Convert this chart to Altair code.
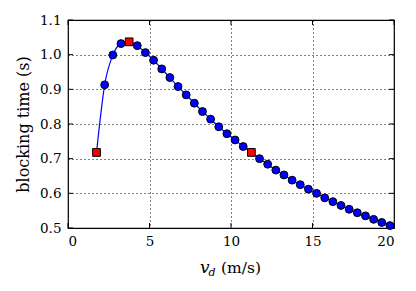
import altair as alt
import pandas as pd

circ_x = [2.25, 2.75, 3.25, 4.25, 4.75, 5.25, 5.75, 6.25, 6.75, 7.25, 7.75, 8.25,
          8.75, 9.25, 9.75, 10.25, 10.75, 11.75, 12.25, 12.75, 13.25, 13.75, 14.25,
          14.75, 15.25, 15.75, 16.25, 16.75, 17.25, 17.75, 18.25, 18.75, 19.25, 19.75]
circ_y = [0.913, 0.999, 1.032, 1.026, 1.006, 0.984, 0.959, 0.934, 0.908, 0.884, 0.860,
          0.836, 0.814, 0.792, 0.772, 0.754, 0.735, 0.700, 0.684, 0.667, 0.653, 0.638,
          0.625, 0.612, 0.600, 0.587, 0.576, 0.565, 0.554, 0.544, 0.535, 0.525, 0.516,
          0.507]
sq_x = [1.75, 3.75, 11.25]
sq_y = [0.718, 1.037, 0.718]
x_ticks = [0, 5, 10, 15, 20]
y_ticks = [0.5, 0.6, 0.7, 0.8, 0.9, 1.0, 1.1]

W, H = 326, 208
FONT = "DejaVu Serif"

circ = pd.DataFrame({"x": circ_x, "y": circ_y})
sq = pd.DataFrame({"x": sq_x, "y": sq_y})
line_df = pd.concat([circ, sq]).sort_values("x")

xs = alt.Scale(domain=[0, 20], nice=False, zero=False)
ys = alt.Scale(domain=[0.5, 1.1], nice=False, zero=False)

xax = alt.Axis(values=x_ticks, format="d", title=None)
yax = alt.Axis(values=y_ticks, format=".1f", title="blocking time (s)")

base_line = alt.Chart(line_df).mark_line(color="#0000ff", strokeWidth=1.2, interpolate="monotone").encode(
    x=alt.X("x:Q", scale=xs, axis=xax), y=alt.Y("y:Q", scale=ys, axis=yax))
pts = alt.Chart(circ).mark_point(shape="circle", filled=True, fill="#0000ff", stroke="black",
                                 strokeWidth=1, size=62, opacity=1).encode(
    x=alt.X("x:Q", scale=xs, axis=xax), y=alt.Y("y:Q", scale=ys, axis=yax))
sqs = alt.Chart(sq).mark_point(shape="square", filled=True, fill="#ff0000", stroke="black",
                               strokeWidth=1, size=60, opacity=1).encode(
    x=alt.X("x:Q", scale=xs, axis=xax), y=alt.Y("y:Q", scale=ys, axis=yax))

xt = pd.DataFrame({"x": x_ticks})
yt = pd.DataFrame({"y": y_ticks})
tick_b = alt.Chart(xt).mark_rule(color="black", strokeWidth=1).encode(
    x=alt.X("x:Q", scale=xs, axis=xax), y=alt.value(H), y2=alt.value(H - 5))
tick_t = alt.Chart(xt).mark_rule(color="black", strokeWidth=1).encode(
    x=alt.X("x:Q", scale=xs, axis=xax), y=alt.value(0), y2=alt.value(5))
tick_l = alt.Chart(yt).mark_rule(color="black", strokeWidth=1).encode(
    y=alt.Y("y:Q", scale=ys, axis=yax), x=alt.value(0), x2=alt.value(5))
tick_r = alt.Chart(yt).mark_rule(color="black", strokeWidth=1).encode(
    y=alt.Y("y:Q", scale=ys, axis=yax), x=alt.value(W), x2=alt.value(W - 5))

title_v = alt.Chart(pd.DataFrame({"t": ["v"]})).mark_text(
    font=FONT, fontSize=17, fontStyle="italic", align="left", baseline="alphabetic", color="black").encode(
    text="t:N", x=alt.value(132), y=alt.value(253))
title_d = alt.Chart(pd.DataFrame({"t": ["d"]})).mark_text(
    font=FONT, fontSize=11, fontStyle="italic", align="left", baseline="alphabetic", color="black").encode(
    text="t:N", x=alt.value(140.5), y=alt.value(256))
title_u = alt.Chart(pd.DataFrame({"t": ["(m/s)"]})).mark_text(
    font=FONT, fontSize=15.5, align="left", baseline="alphabetic", color="black").encode(
    text="t:N", x=alt.value(153), y=alt.value(253))

chart = alt.layer(base_line, tick_b, tick_t, tick_l, tick_r, pts, sqs, title_v, title_d, title_u).properties(
    width=W, height=H,
    autosize=alt.AutoSizeParams(type="none"),
    padding={"left": 60, "top": 12, "right": 6, "bottom": 55},
    background="white",
).configure_view(stroke="black", strokeWidth=1.2).configure_axis(
    grid=True, gridColor="black", gridDash=[1, 3], gridOpacity=1, gridWidth=1,
    ticks=False, domain=False, labelFont=FONT, labelFontSize=13.5, labelColor="black",
    labelOverlap=False, labelPadding=6, titleFont=FONT, titleFontSize=16,
    titleFontWeight="normal", titleColor="black", titlePadding=8,
).configure_axisY(labelPadding=7)

chart.save("out.html", embed_options={"renderer": "svg", "actions": False})
